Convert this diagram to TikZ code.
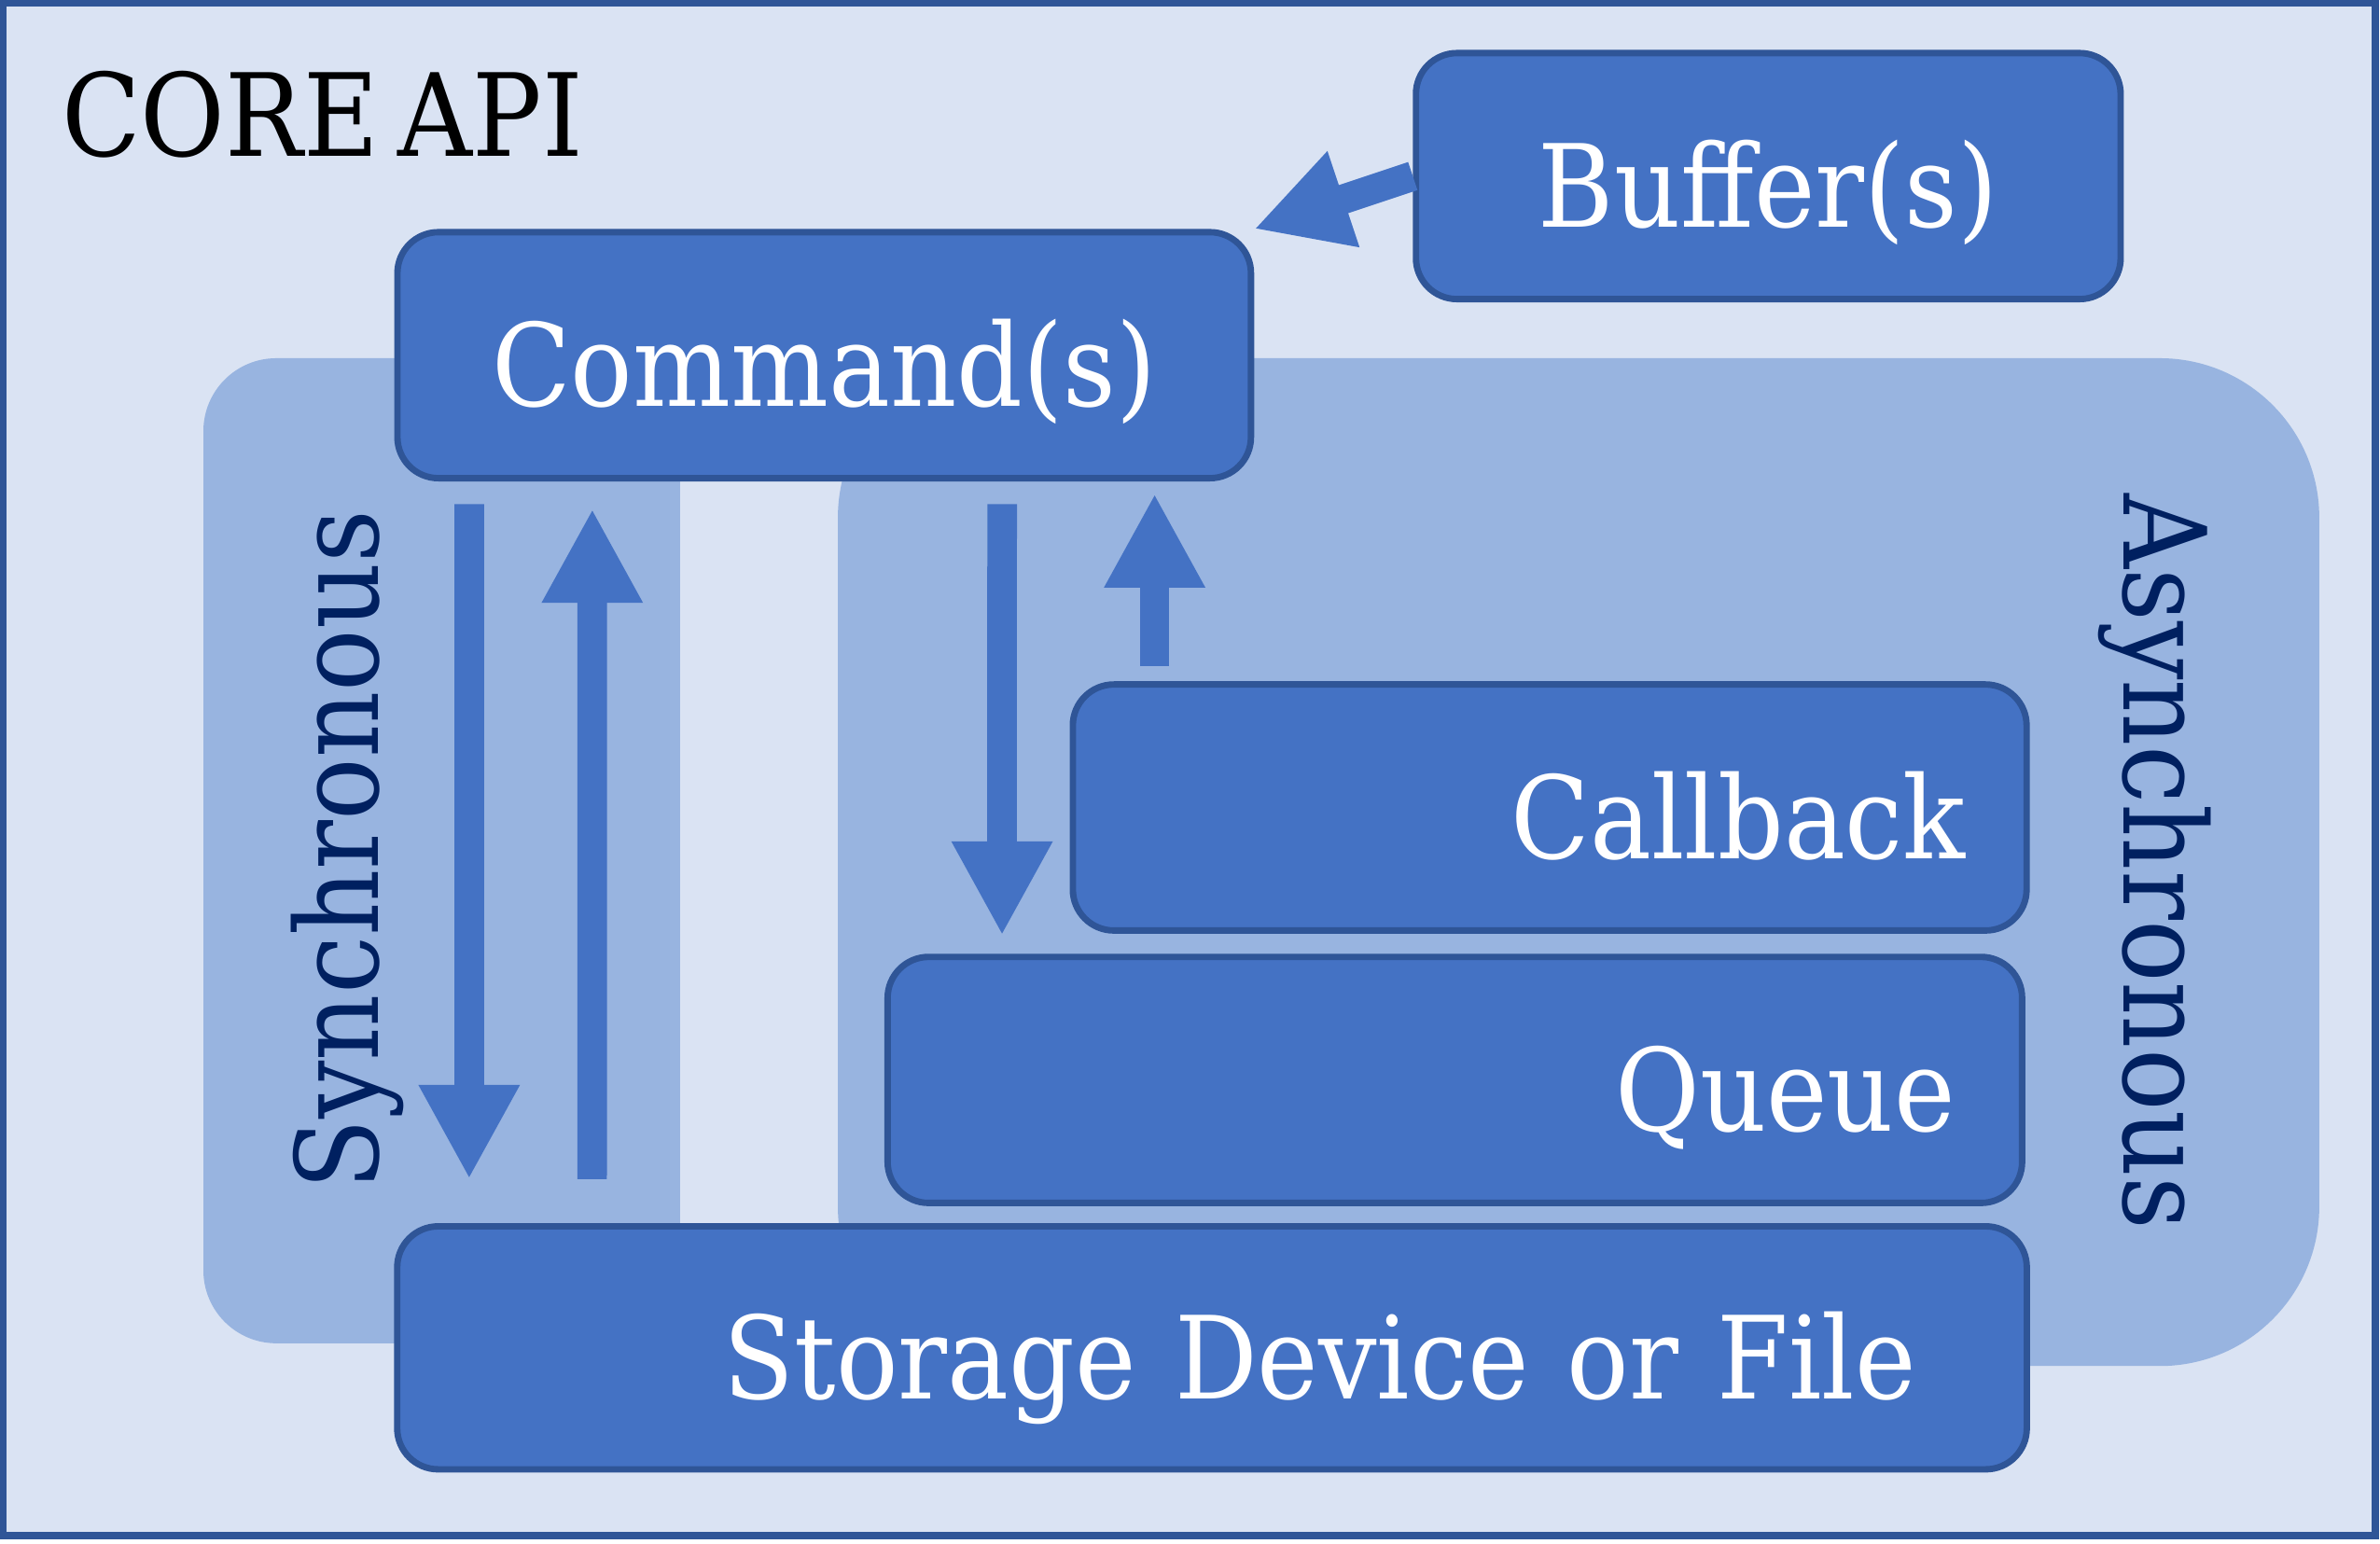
\documentclass[tikz,border=0pt]{standalone}
\usepackage{fontspec}
\setmainfont{DejaVu Serif}[FakeStretch=0.9, WordSpace=0.6]
\usetikzlibrary{arrows.meta,calc}
\definecolor{corebg}{RGB}{218,227,243}
\definecolor{zonebg}{RGB}{152,180,224}
\definecolor{boxfill}{RGB}{68,114,196}
\definecolor{boxline}{RGB}{47,85,151}
\definecolor{navy}{RGB}{0,32,96}
\newcommand{\bigtext}{\fontsize{21.5}{26}\selectfont}
\begin{document}
\begin{tikzpicture}[x=0.01cm, y=-0.01cm,
	box/.style={draw=boxline, fill=boxfill, line width=1.2pt, rounded corners=0.27cm,
		text=white, font=\bigtext, inner sep=0pt, text height=0.67cm, text depth=0cm,
		minimum height=1.62cm},
	zonelbl/.style={text=navy, font=\bigtext, anchor=base},
	fat/.style={draw=boxfill, line width=0.195cm, -{Triangle[length=0.62cm, width=0.62cm]}}]
	\useasboundingbox (0,0) rectangle (1568,1017);
	%frame
	\draw[boxline, fill=corebg, line width=1.4pt] (2,2) rectangle (1565,1012);
	\node[anchor=base west, font=\bigtext, inner sep=0pt] (title) at (40,103) {CORE API};
	
	%zones
	\fill[zonebg, rounded corners=0.48cm] (134,236) rectangle (448,885);
	\fill[zonebg, rounded corners=1.05cm] (552,236) rectangle (1528,900);
	\node[zonelbl, rotate=90] (synclbl) at (249,560) {Synchronous};
	\node[zonelbl, rotate=-90] (asynclbl) at (1399,568) {Asynchronous};
	
	%boxes
	\node[box, minimum width=4.64cm] (buf) at (1165,116) {Buffer(s)};
	\node[box, minimum width=5.62cm] (cmd) at (543,234) {Command(s)};
	\node[box, minimum width=6.28cm, text width=5.48cm, align=right] (call) at (1021,532) {Callback};
	\node[box, minimum width=7.47cm, text width=6.59cm, align=right] (queue) at (958.5,711.5) {Queue};
	\node[box, minimum width=10.73cm, minimum height=1.60cm, text width=9.27cm, align=right] (store) at (798.5,888) {Storage Device or File};
	
	%arrows
	\draw[fat] (buf.west) -- (cmd.north east);
	\draw[fat] ($(cmd.south west)+(49.5,15)$) -- ($(store.north west)+(49.5,-29)$);
	\draw[fat] ($(store.north west)+(130.5,-29)$) -- ($(cmd.south west)+(130.5,18)$);
	\draw[fat] ($(cmd.south west)+(400.5,15)$) -- ($(queue.north west)+(77.5,-12)$);
	\draw[fat] ($(call.north west)+(56,-10)$) -- ($(call.north west |- cmd.south)+(56,8)$);
\end{tikzpicture}
\end{document}
